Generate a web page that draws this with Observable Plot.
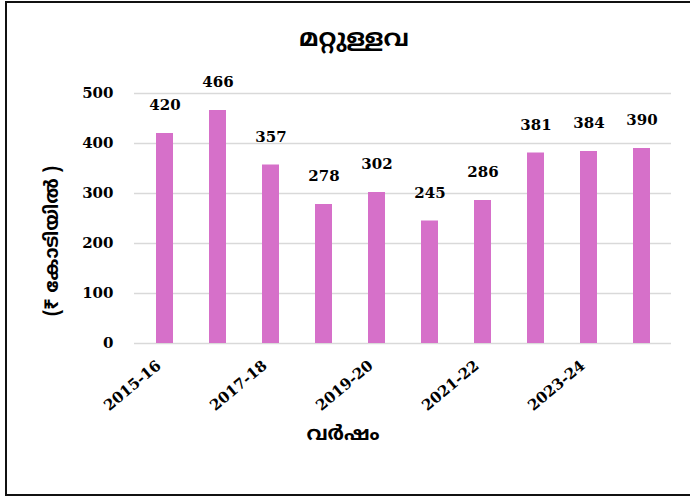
<!DOCTYPE html>
<html>
<head>
<meta charset="utf-8">
<script src="https://cdn.jsdelivr.net/npm/d3@7"></script>
<script src="https://cdn.jsdelivr.net/npm/@observablehq/plot@0.6"></script>
<style>
  html, body { margin: 0; padding: 0; background: #fff; }
  #wrap { position: relative; width: 690px; height: 497px; overflow: hidden; }
  #frame { position: absolute; left: 5px; top: 1px; width: 720px; height: 491px; border: 2px solid #111; box-sizing: content-box; pointer-events: none; }
  #wrap svg { position: absolute; left: 0; top: 0; }
</style>
</head>
<body>
<div id="wrap"><div id="frame"></div></div>
<script>
const title = "മറ്റുള്ളവ";
const yLabel = "(₹ കോടിയിൽ )";
const xLabel = "വർഷം";
const years = ["2015-16","2016-17","2017-18","2018-19","2019-20","2020-21","2021-22","2022-23","2023-24","2024-25"];
const values = [420, 466, 357, 278, 302, 245, 286, 381, 384, 390];
const shownTicks = ["2015-16","2017-18","2019-20","2021-22","2023-24"];
const yTicks = [0, 100, 200, 300, 400, 500];

const data = years.map((year, i) => ({year, value: values[i]}));
const serif = "'DejaVu Serif', serif";
const mal = "'Noto Sans Malayalam', 'Noto Sans', sans-serif";

const chart = Plot.plot({
  width: 690,
  height: 497,
  marginLeft: 134,
  marginRight: 19,
  marginTop: 93,
  marginBottom: 154,
  style: {fontFamily: serif, fontWeight: "bold", fontSize: "15px", color: "#000", background: "transparent", overflow: "visible"},
  x: {domain: years, paddingInner: 0.68, paddingOuter: 0.34, label: null},
  y: {domain: [0, 500], label: null},
  marks: [
    Plot.ruleY(yTicks, {stroke: "#d9d9d9", strokeWidth: 1.5}),
    Plot.barY(data, {x: "year", y: "value", fill: "#d670c9"}),
    Plot.text(data, {x: "year", y: "value", text: d => String(d.value), dy: -28, fontSize: 15, fontWeight: "bold", fill: "#000"}),
    Plot.axisY({ticks: yTicks, tickSize: 0, tickPadding: 21, fontSize: 15, fontWeight: "bold"}),
    Plot.axisX({ticks: shownTicks, tickSize: 0, tickPadding: 20, dx: -6, tickRotate: -40, fontSize: 15, fontWeight: "bold"})
  ]
});

const svg = d3.select(chart);
svg.append("text").attr("x", 354).attr("y", 40).attr("text-anchor", "middle").attr("dominant-baseline", "central")
  .style("font-family", mal).style("font-size", "24px").style("font-weight", "bold").attr("fill", "#000").text(title);
svg.append("text").attr("transform", "translate(53,241) rotate(-90)").attr("text-anchor", "middle").attr("dominant-baseline", "central")
  .style("font-family", mal).style("font-size", "19px").style("font-weight", "bold").attr("fill", "#000").text(yLabel);
svg.append("text").attr("x", 343).attr("y", 435).attr("text-anchor", "middle").attr("dominant-baseline", "central")
  .style("font-family", mal).style("font-size", "20px").style("font-weight", "bold").attr("fill", "#000").text(xLabel);

document.getElementById("wrap").appendChild(chart);
</script>
</body>
</html>
